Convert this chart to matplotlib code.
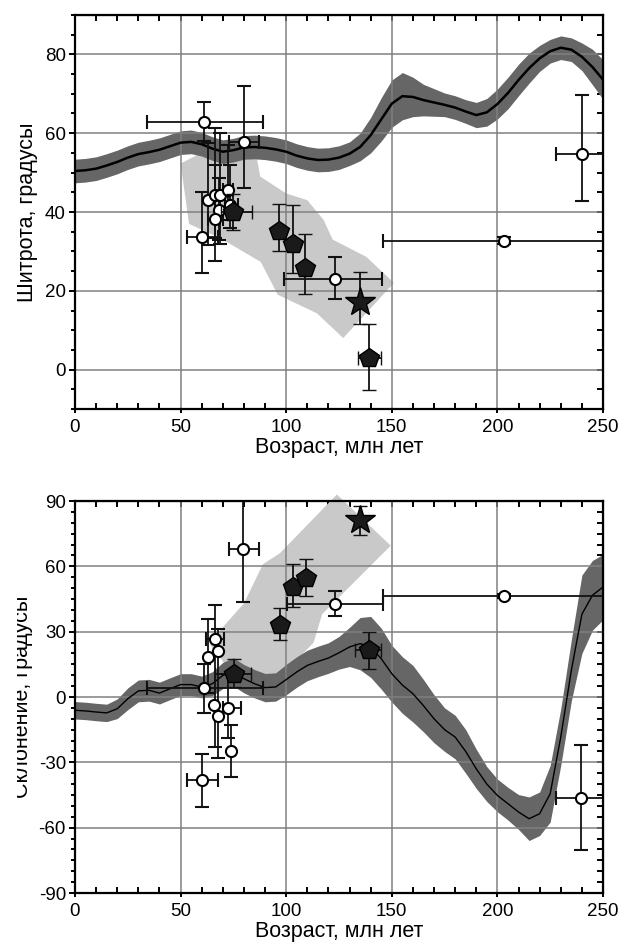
import numpy as np
import matplotlib
matplotlib.use('Agg')
import matplotlib.pyplot as plt
from matplotlib.ticker import MultipleLocator
from matplotlib.transforms import Bbox, TransformedBbox

plt.rcParams['font.family'] = ['Liberation Sans', 'DejaVu Sans']
plt.rcParams['axes.unicode_minus'] = False

# ---------------- data ----------------
curve_age = [0, 5, 10, 15, 20, 25, 30, 35, 40, 45, 50, 55, 60, 65, 70, 75, 80, 85, 90, 95,
             100, 105, 110, 115, 120, 125, 130, 135, 140, 145, 150, 155, 160, 165, 170, 175,
             180, 185, 190, 195, 200, 205, 210, 215, 220, 225, 230, 235, 240, 245, 250]

lat_curve = [50.4, 50.6, 51.0, 51.8, 52.7, 53.8, 54.7, 55.2, 55.8, 56.7, 57.6, 57.8, 57.2, 56.1,
             55.3, 55.7, 56.4, 56.5, 56.3, 55.9, 55.3, 54.3, 53.6, 53.2, 53.3, 53.8, 54.8, 56.5,
             59.5, 63.5, 67.5, 69.4, 69.2, 68.4, 67.8, 67.2, 66.5, 65.5, 64.6, 65.3, 67.4, 70.2,
             73.5, 76.5, 79.0, 80.8, 81.7, 81.2, 79.4, 76.8, 73.6]
lat_halfwidth = [3, 3, 3, 3, 3, 3, 3, 3, 3, 3, 3, 3, 3, 3, 3, 3, 3, 3, 3, 3, 3, 3, 3, 3, 3, 3,
                 3, 3.5, 4.5, 5.5, 6, 6, 5, 4, 3.5, 3, 3, 3, 3.2, 3.5, 3.8, 4, 4, 3.8, 3.3, 3,
                 3, 3, 3.5, 4.5, 5]

dec_curve = [-6.1, -6.4, -6.9, -7.3, -5.4, -0.8, 2.8, 3.1, 1.8, 3.8, 5.7, 5.7, 4.6, 6.1, 9.9,
             11.5, 8.4, 6.1, 4.3, 4.6, 8.0, 11.5, 14.5, 16.3, 17.9, 20.3, 23.0, 24.5, 23.0, 17.6,
             10.7, 5.5, 1.5, -4.0, -10.0, -15.0, -18.4, -25.0, -33.0, -40.0, -45.2, -49.0,
             -52.8, -55.9, -53.6, -44.4, -18.4, 12.2, 38.0, 46.7, 50.5]
dec_halfwidth = [4, 4, 4, 4, 4.5, 5, 5, 5, 5, 5, 5, 5, 5, 5.5, 6, 6.5, 6.5, 6.5, 6.5, 6.5, 7,
                 7, 7, 7, 7, 7.5, 9, 12, 14, 14, 13, 13, 13, 12, 11, 10, 10, 10, 9, 8, 7.5, 7.5,
                 8, 10, 10, 13, 13, 14, 18, 16, 15]

# light-grey fields (age, value)
lat_field_age = [50, 58, 86, 87.7, 100, 110, 117.7, 122, 138, 151, 127, 114.5, 96, 88, 70, 54]
lat_field_val = [52.3, 54.5, 54, 49, 44.7, 43, 38, 33, 28.6, 22, 8, 14.3, 19, 27.3, 33, 37]
dec_field_age = [124, 149.5, 117, 113, 104, 83, 64, 69, 80, 89, 97]
dec_field_val = [93, 69.5, 38, 25, 16, 0, 24, 31, 43, 61, 66]

# latitude data: open circles
lat_o_age = [61.3, 79.8, 240.0, 203.2, 122.9, 60.1, 63.2, 66.4, 68.8, 72.4, 68.0, 66.4, 73.5]
lat_o_val = [62.8, 57.7, 54.7, 32.6, 22.9, 33.7, 43.1, 44.4, 44.2, 45.5, 40.6, 38.1, 41.9]
lat_o_age_lo = [34, 73, 227.7, 146, 99, 53, None, None, None, 70, None, 63, 71]
lat_o_age_hi = [89, 87, 255, 255, 145.5, 67.5, None, None, None, 75, None, 70, 77]
lat_o_val_lo = [58, 46, 42.7, 31.8, 17.9, 24.5, 31.5, 27.5, 32, 38, 33, 33.5, 36]
lat_o_val_hi = [68, 72, 69.7, 33.6, 28.5, 45, 57.5, 61.4, 60, 57, 48.7, 52, 52]
# latitude data: filled pentagons
lat_p_age = [75.0, 96.7, 103.0, 109.0, 139.0]
lat_p_val = [40.0, 35.2, 32.0, 25.9, 3.0]
lat_p_age_lo = [69, None, None, None, 134]
lat_p_age_hi = [84, None, None, None, 145]
lat_p_val_lo = [35.5, 30, 24.6, 19.2, -5.3]
lat_p_val_hi = [44.5, 42, 41.8, 34.4, 11.6]
# latitude star
lat_s_age = [135.0]
lat_s_val = [17.2]
lat_s_val_lo = [11.6]
lat_s_val_hi = [24.7]

# declination data: open circles
dec_o_age = [79.7, 203.2, 123.1, 239.6, 60.3, 61.3, 63.2, 66.2, 67.9, 65.8, 67.9, 72.6, 73.7]
dec_o_val = [68.1, 46.4, 42.9, -46.2, -38.3, 4.0, 18.4, 26.8, 21.3, -3.5, -8.9, -5.1, -25.0]
dec_o_age_lo = [72.8, 146, 100.5, 227.8, 53, 34.1, None, 61.8, None, None, None, 70.3, None]
dec_o_age_hi = [86.9, 255, 146, 255, 67.9, 88.8, None, 70.7, None, None, None, 78.8, None]
dec_o_val_lo = [43.5, 45.5, 37.3, -70.1, -50.5, -7.2, 2, -23, -27.9, None, None, -19, -36.7]
dec_o_val_hi = [90.5, 47.5, 48.5, -21.9, -26, 15.3, 36, 42.4, 31.1, None, None, 10.7, -13]
# declination data: filled pentagons
dec_p_age = [75.2, 97.3, 103.3, 109.4, 139.1]
dec_p_val = [10.4, 32.9, 50.5, 54.8, 21.4]
dec_p_age_lo = [66.2, None, None, None, 132.5]
dec_p_age_hi = [83.5, None, None, None, 144.8]
dec_p_val_lo = [4.6, 26, 41.3, 46.4, 13]
dec_p_val_hi = [17.6, 41, 60.9, 63.2, 29.8]
# declination star
dec_s_age = [135.0]
dec_s_val = [81.1]
dec_s_val_lo = [74.5]
dec_s_val_hi = [87.7]

x_ticks = [0, 50, 100, 150, 200, 250]
lat_ticks = [0, 20, 40, 60, 80]
dec_ticks = [-90, -60, -30, 0, 30, 60, 90]

# ---------------- styling ----------------
BAND = '#666666'
FIELD = '#c9c9c9'
GRID = '#808080'
FS_TICK = 13.5
FS_LABEL = 15.5

fig = plt.figure(figsize=(6.25, 9.47), dpi=100)
ax1 = fig.add_axes([75 / 625, 1 - 409 / 947, 528 / 625, 394 / 947])
ax2 = fig.add_axes([75 / 625, 1 - 893 / 947, 528 / 625, 392 / 947])


def draw_points(ax, age, val, alo, ahi, vlo, vhi, marker, ms, mfc, mew, z):
    for i in range(len(age)):
        xe = None
        ye = None
        if alo is not None and alo[i] is not None:
            xe = [[age[i] - alo[i]], [ahi[i] - age[i]]]
        if vlo is not None and vlo[i] is not None:
            ye = [[val[i] - vlo[i]], [vhi[i] - val[i]]]
        ax.errorbar([age[i]], [val[i]], xerr=xe, yerr=ye, fmt=marker, ms=ms,
                    mfc=mfc, mec='black', mew=mew, ecolor='#111111', elinewidth=1.3,
                    capsize=5, capthick=1.3, zorder=z)


def style_axes(ax, ylim, yticks):
    ax.set_xlim(0, 250)
    ax.set_ylim(*ylim)
    ax.set_xticks(x_ticks)
    ax.set_yticks(yticks)
    ax.xaxis.set_minor_locator(MultipleLocator(10))
    ax.yaxis.set_minor_locator(MultipleLocator(5))
    ax.set_axisbelow('line')
    ax.grid(True, which='major', color=GRID, lw=1.1)
    ax.tick_params(axis='y', which='both', direction='out', left=True, right=False,
                   labelsize=FS_TICK, pad=2, width=1.4)
    ax.tick_params(axis='y', which='major', length=4.5)
    ax.tick_params(axis='y', which='minor', length=3)
    ax.tick_params(axis='x', which='major', direction='out', length=3, width=1.4,
                   labelsize=FS_TICK, pad=4, top=False)
    ax.tick_params(axis='x', which='minor', direction='in', length=4, width=1.4, top=False)
    for s in ax.spines.values():
        s.set_linewidth(1.6)
        s.set_zorder(5)
    secy = ax.secondary_yaxis('right')
    secy.set_yticks(yticks)
    secy.yaxis.set_minor_locator(MultipleLocator(5))
    secy.tick_params(axis='y', which='both', direction='in', length=4, width=1.4,
                     labelright=False)
    secx = ax.secondary_xaxis('top')
    secx.set_xticks(x_ticks)
    secx.xaxis.set_minor_locator(MultipleLocator(10))
    secx.tick_params(axis='x', which='both', direction='in', length=4, width=1.4,
                     labeltop=False)
    ax.set_xlabel('Возраст, млн лет', fontsize=FS_LABEL, labelpad=1)


# ---------------- top: latitude ----------------
lat_arr = np.array(lat_curve)
lat_hw = np.array(lat_halfwidth)
ax1.fill(lat_field_age, lat_field_val, color=FIELD, lw=0, zorder=1)
ax1.fill_between(curve_age, lat_arr - lat_hw, lat_arr + lat_hw, color=BAND, lw=0, zorder=1.2)
ax1.plot(curve_age, lat_curve, color='black', lw=1.8, zorder=2)
draw_points(ax1, lat_o_age, lat_o_val, lat_o_age_lo, lat_o_age_hi, lat_o_val_lo, lat_o_val_hi,
            'o', 8, 'white', 1.5, 3)
draw_points(ax1, lat_p_age, lat_p_val, lat_p_age_lo, lat_p_age_hi, lat_p_val_lo, lat_p_val_hi,
            'p', 15, '#1a1a1a', 1, 4)
draw_points(ax1, lat_s_age, lat_s_val, None, None, lat_s_val_lo, lat_s_val_hi,
            '*', 22, '#1a1a1a', 1, 4)
style_axes(ax1, (-10, 90), lat_ticks)
ax1.set_ylabel('Шитрота, градусы', fontsize=FS_LABEL, labelpad=5)

# ---------------- bottom: declination ----------------
dec_arr = np.array(dec_curve)
dec_hw = np.array(dec_halfwidth)
ax2.fill(dec_field_age, dec_field_val, color=FIELD, lw=0, zorder=1, clip_on=False)
ax2.fill_between(curve_age, dec_arr - dec_hw, dec_arr + dec_hw, color=BAND, lw=0, zorder=1.2)
ax2.plot(curve_age, dec_curve, color='black', lw=1.0, zorder=2)
draw_points(ax2, dec_o_age, dec_o_val, dec_o_age_lo, dec_o_age_hi, dec_o_val_lo, dec_o_val_hi,
            'o', 8, 'white', 1.5, 3)
draw_points(ax2, dec_p_age, dec_p_val, dec_p_age_lo, dec_p_age_hi, dec_p_val_lo, dec_p_val_hi,
            'p', 15, '#1a1a1a', 1, 4)
draw_points(ax2, dec_s_age, dec_s_val, None, None, dec_s_val_lo, dec_s_val_hi,
            '*', 22, '#1a1a1a', 1, 4)
style_axes(ax2, (-90, 90), dec_ticks)
ylab = ax2.set_ylabel('Склонение, градусы', fontsize=FS_LABEL, labelpad=4)
clip = TransformedBbox(Bbox([[17 / 625, 0], [1, 1]]), fig.transFigure)
ylab.set_clip_box(clip)
ylab.set_clip_on(True)

fig.savefig('out.png', dpi=100)
